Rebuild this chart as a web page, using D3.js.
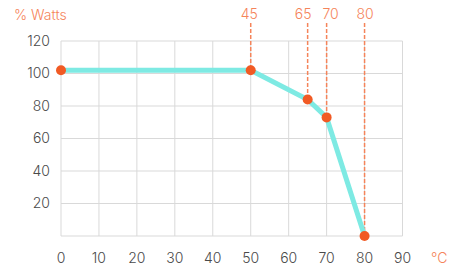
<!DOCTYPE html>
<html>
<head>
<meta charset="utf-8">
<script src="https://cdn.jsdelivr.net/npm/d3@7"></script>
<style>
  body { margin: 0; background: #fff; }
  text { font-family: Inter, "Open Sans", sans-serif; font-weight: 300; }
</style>
</head>
<body>
<svg id="chart" width="465" height="267"></svg>
<script>
// temperature (°C) vs power (% Watts)
const temps = [0, 50, 65, 70, 80]
const watts = [102, 102, 84, 73, 0]
// markers above the derating points
const markerTemps = [50, 65, 70, 80]
const markerLabels = ['45', '65', '70', '80']
const xTicks = [0, 10, 20, 30, 40, 50, 60, 70, 80, 90]
const yTicks = [20, 40, 60, 80, 100, 120]

const svg = d3.select('#chart')
const x = d3.scaleLinear().domain([0, 90]).range([61, 402.5])
const y = d3.scaleLinear().domain([0, 120]).range([236, 41])

const orange = '#f15a24'
const labelOrange = '#f5845a'
const grid = '#d9d9d9'

// grid
svg.append('g').selectAll('line')
  .data(xTicks)
  .join('line')
  .attr('x1', d => x(d)).attr('x2', d => x(d))
  .attr('y1', y(120)).attr('y2', y(0))
  .attr('stroke', grid).attr('stroke-width', 1)

svg.append('g').selectAll('line')
  .data([0].concat(yTicks))
  .join('line')
  .attr('x1', x(0)).attr('x2', x(90))
  .attr('y1', d => y(d)).attr('y2', d => y(d))
  .attr('stroke', grid).attr('stroke-width', 1)

// tick labels
svg.append('g').selectAll('text')
  .data(yTicks)
  .join('text')
  .attr('x', 50).attr('y', d => y(d))
  .attr('dy', '0.35em')
  .attr('text-anchor', 'end')
  .attr('font-size', 14)
  .attr('fill', '#4a4a4a')
  .text(d => d)

svg.append('g').selectAll('text')
  .data(xTicks)
  .join('text')
  .attr('x', d => x(d)).attr('y', 258)
  .attr('dy', '0.35em')
  .attr('text-anchor', 'middle')
  .attr('font-size', 14)
  .attr('fill', '#4a4a4a')
  .text(d => d)

svg.append('text')
  .attr('x', 14).attr('y', 20)
  .attr('font-size', 14)
  .attr('fill', labelOrange)
  .text('% Watts')

svg.append('text')
  .attr('x', 431).attr('y', 258)
  .attr('dy', '0.35em')
  .attr('font-size', 14)
  .attr('fill', labelOrange)
  .text('°C')

// dashed markers
let pts = temps.map((t, i) => ({t: t, w: watts[i]}))
let nudge = [-1.5, -4.5, 4, 0.5]  // labels are not quite centred on their lines
let markers = markerTemps.map((t, i) => ({t: t, label: markerLabels[i], w: watts[temps.indexOf(t)], dx: nudge[i]}))

svg.append('g').selectAll('line')
  .data(markers)
  .join('line')
  .attr('x1', d => x(d.t)).attr('x2', d => x(d.t))
  .attr('y1', 23).attr('y2', d => y(d.w))
  .attr('stroke', labelOrange).attr('stroke-width', 1.5)
  .attr('stroke-dasharray', '4,2')

svg.append('g').selectAll('text')
  .data(markers)
  .join('text')
  .attr('x', d => x(d.t) + d.dx).attr('y', 19)
  .attr('text-anchor', 'middle')
  .attr('font-size', 14)
  .attr('fill', labelOrange)
  .text(d => d.label)

// power curve
let line = d3.line().x(d => x(d.t)).y(d => y(d.w))
svg.append('path')
  .datum(pts)
  .attr('d', line)
  .attr('fill', 'none')
  .attr('stroke', '#7eeae3')
  .attr('stroke-width', 5)

svg.append('g').selectAll('circle')
  .data(pts)
  .join('circle')
  .attr('cx', d => x(d.t)).attr('cy', d => y(d.w))
  .attr('r', 5)
  .attr('fill', orange)
</script>
</body>
</html>
